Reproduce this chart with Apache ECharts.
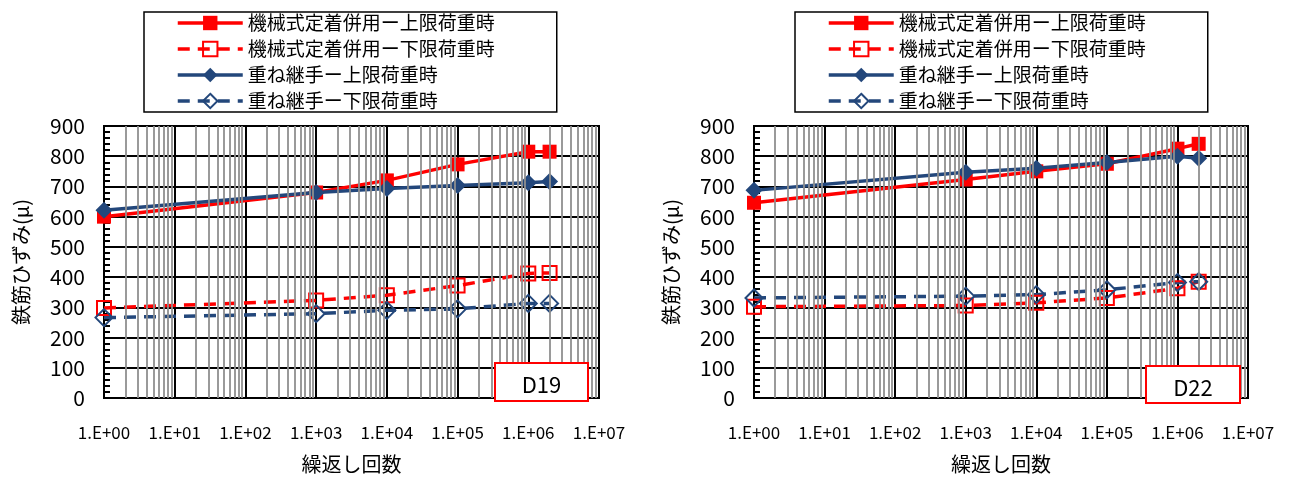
<!DOCTYPE html>
<html>
<head>
<meta charset="utf-8">
<script src="https://cdn.jsdelivr.net/npm/echarts@6/dist/echarts.min.js"></script>
<style>
  html, body { margin: 0; padding: 0; background: #fff; }
  #chart { width: 1289px; height: 479px; }
</style>
</head>
<body>
<div id="chart"></div>
<script>
// Load cycles (x) shared by every series
const cycles = [1, 1000, 10000, 100000, 1000000, 2000000];

// D19 strains (μ)
const d19MechUpper = [600, 680, 720, 773, 815, 815];
const d19MechLower = [298, 323, 340, 372, 412, 414];
const d19LapUpper  = [621, 680, 693, 703, 712, 716];
const d19LapLower  = [266, 279, 290, 295, 313, 313];

// D22 strains (μ)
const d22MechUpper = [646, 723, 750, 775, 825, 841];
const d22MechLower = [302, 306, 315, 331, 363, 385];
const d22LapUpper  = [687, 747, 760, 779, 800, 793];
const d22LapLower  = [331, 337, 342, 358, 382, 385];

const seriesNames = [
  '機械式定着併用ー上限荷重時',
  '機械式定着併用ー下限荷重時',
  '重ね継手ー上限荷重時',
  '重ね継手ー下限荷重時'
];
const panelLabels = ['D19', 'D22'];
const xAxisTitle = '繰返し回数';
const yAxisTitle = '鉄筋ひずみ(μ)';

// Intermediate log grid lines (2..9 in each decade)
const minorGrid = [];
for (let k = 0; k < 7; k++) {
  for (let m = 2; m <= 9; m++) minorGrid.push(m * Math.pow(10, k));
}

const RED = '#FF0000';
const BLUE = '#23477B';
const FONT = '"Noto Sans CJK JP", "Noto Sans", sans-serif';

const pair = (ys) => cycles.map((c, i) => [c, ys[i]]);

const panels = [
  { left: 104, width: 495, legendLeft: 144, box: [495, 363, 93, 38], data: [d19MechUpper, d19MechLower, d19LapUpper, d19LapLower] },
  { left: 754, width: 494, legendLeft: 795, box: [1146, 366, 94, 37], data: [d22MechUpper, d22MechLower, d22LapUpper, d22LapLower] }
];

const grids = [], xAxes = [], yAxes = [], series = [], legends = [], graphics = [];

panels.forEach((p, gi) => {
  grids.push({
    left: p.left, top: 126, width: p.width, height: 278,
    show: true, borderColor: '#000', borderWidth: 2, backgroundColor: '#fff'
  });
  xAxes.push({
    type: 'log', logBase: 10, gridIndex: gi, min: 1, max: 1e7, splitNumber: 7,
    name: xAxisTitle, nameLocation: 'middle', nameGap: 56,
    nameTextStyle: { fontFamily: FONT, fontSize: 20, color: '#000' },
    axisLine: { lineStyle: { color: '#000', width: 2 } },
    axisTick: { show: false },
    axisLabel: {
      margin: 26, fontFamily: FONT, fontSize: 17, color: '#000',
      formatter: v => '1.E+' + String(Math.round(Math.log10(v))).padStart(2, '0')
    },
    splitLine: { show: true, lineStyle: { color: '#000', width: 2 } }
  });
  yAxes.push({
    type: 'value', gridIndex: gi, min: 0, max: 900, interval: 100,
    name: yAxisTitle, nameLocation: 'middle', nameGap: 73, nameRotate: 90,
    nameTextStyle: { fontFamily: FONT, fontSize: 20, color: '#000' },
    axisLine: { lineStyle: { color: '#000', width: 2 } },
    axisTick: { show: true, inside: true, length: 6, lineStyle: { color: '#000', width: 2 } },
    minorTick: { show: true, splitNumber: 5, length: 6, lineStyle: { color: '#000', width: 2 } },
    axisLabel: { margin: 19, fontFamily: FONT, fontSize: 21, color: '#000' },
    splitLine: { show: true, lineStyle: { color: '#000', width: 2 } }
  });

  // grey intermediate log lines
  series.push({
    type: 'line', xAxisIndex: gi, yAxisIndex: gi, data: [], z: 1, silent: true,
    markLine: {
      silent: true, symbol: 'none', animation: false,
      label: { show: false },
      lineStyle: { color: '#8f8f8f', width: 1.8, type: 'solid' },
      data: minorGrid.map(v => ({ xAxis: v }))
    }
  });

  const styles = [
    { color: RED, dash: 'solid', symbol: 'rect', filled: true, size: 14 },
    { color: RED, dash: [12, 8], symbol: 'rect', filled: false, size: 14 },
    { color: BLUE, dash: 'solid', symbol: 'diamond', filled: true, size: 17 },
    { color: BLUE, dash: [12, 8], symbol: 'diamond', filled: false, size: 17 }
  ];
  styles.forEach((s, si) => {
    series.push({
      name: seriesNames[si], type: 'line', xAxisIndex: gi, yAxisIndex: gi, z: 3,
      data: pair(p.data[si]),
      symbol: s.symbol, symbolSize: s.size, showAllSymbol: true,
      lineStyle: { color: s.color, width: 3.5, type: s.dash },
      itemStyle: s.filled
        ? { color: s.color, borderColor: s.color, borderWidth: 0 }
        : { color: 'rgba(255,255,255,0)', borderColor: s.color, borderWidth: 2 },
      animation: false
    });
  });

  legends.push({
    orient: 'vertical', left: p.legendLeft, top: 12,
    data: seriesNames,
    itemWidth: 65, itemHeight: 18, itemGap: 6,
    padding: [1, 62, 1, 32],
    borderColor: '#000', borderWidth: 1.5, backgroundColor: '#fff',
    lineStyle: { width: 3.5 },
    textStyle: { fontFamily: FONT, fontSize: 19, lineHeight: 20, color: '#000' },
    selectedMode: false
  });

  // sample label box in the lower right of each plot
  const [bx, by, bw, bh] = p.box;
  graphics.push({
    type: 'rect', z: 100, silent: true,
    shape: { x: bx, y: by, width: bw, height: bh },
    style: { fill: '#fff', stroke: RED, lineWidth: 2 }
  });
  graphics.push({
    type: 'text', z: 101, silent: true,
    x: bx + bw / 2, y: by + bh / 2 + 3,
    style: { text: panelLabels[gi], fill: '#000', font: '22px ' + FONT, align: 'center', verticalAlign: 'middle' }
  });
});

const chart = echarts.init(document.getElementById('chart'), null, { renderer: 'canvas' });
chart.setOption({
  backgroundColor: '#fff',
  animation: false,
  grid: grids,
  xAxis: xAxes,
  yAxis: yAxes,
  legend: legends,
  series: series,
  graphic: { elements: graphics }
});
</script>
</body>
</html>
